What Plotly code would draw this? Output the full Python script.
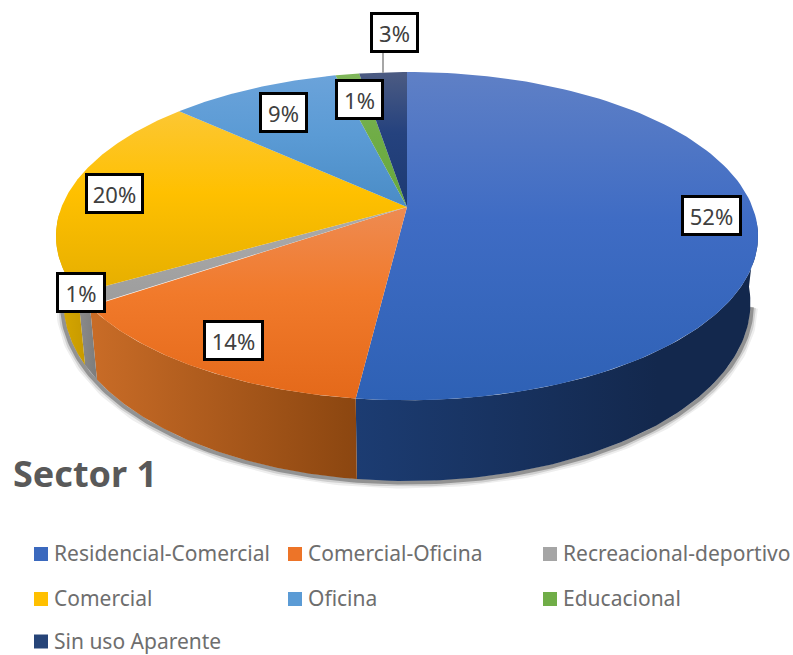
import numpy as np
import plotly.graph_objects as go

categories = ["Residencial-Comercial", "Comercial-Oficina", "Recreacional-deportivo",
              "Comercial", "Oficina", "Educacional", "Sin uso Aparente"]
values = [51.9, 13.5, 1.3, 20.0, 9.3, 1.3, 2.6]
pct_labels = ["52%", "14%", "1%", "20%", "9%", "1%", "3%"]
top_light = ["#5F80C6", "#EE8B52", "#ABABAB", "#FCC733", "#6BA3DA", "#7FB65A", "#4C5B82"]
top_mid = ["#3F6CC4", "#F17A2B", "#A5A5A5", "#FFC000", "#5B9BD5", "#70AD47", "#25427E"]
top_dark = ["#2E61B5", "#E4691A", "#9C9C9C", "#E5AE00", "#4A8CC6", "#66A83C", "#1C3A72"]
side_left = ["#1C3C72", "#C96C27", "#8C8C8C", "#D9A900", "#000000", "#000000", "#000000"]
side_right = ["#13284D", "#8B4610", "#7C7C7C", "#C79A00", "#000000", "#000000", "#000000"]
legend_colors = ["#3B69BE", "#ED7428", "#A5A5A5", "#FFC000", "#5B9BD5", "#70AD47", "#264478"]
label_centers = [(711, 215), (233, 340), (81, 292), (114, 193), (283, 112), (359, 99), (394, 32)]
label_widths = [55, 55, 44, 53, 43, 43, 43]
legend_cols = [34, 288, 543, 34, 288, 543, 34]
legend_rows = [554, 554, 554, 599, 599, 599, 641.5]

CX = 407
TOP = dict(A=345.5, B=159.0, k=0.177, y0=207.0)
BOT = dict(A=338.0, B=172.4, k=0.177, y0=271.5)
SIDE_FROM, SIDE_TO = 95.0, 268.0


def project(theta_deg, p):
    t = np.radians(theta_deg)
    w = 1 + p["k"] * np.cos(t)
    return CX + p["A"] * np.sin(t) / w, p["y0"] - p["B"] * np.cos(t) / w


edges = np.concatenate([[0], np.cumsum(values)]) / sum(values) * 360

fig = go.Figure()

# soft shadow under the lower rim
arc = np.linspace(SIDE_FROM + 6, SIDE_TO - 6, 200)
sx, sy = project(arc, BOT)
for width, off, alpha in [(10, 2.5, 0.07), (7, 2, 0.14), (4, 1.5, 0.32)]:
    fig.add_trace(go.Scatter(x=sx + np.sign(sx - CX) * off, y=sy + off, mode="lines",
                             line=dict(color=f"rgba(20,20,20,{alpha})", width=width),
                             hoverinfo="skip", showlegend=False))

# rim of the disc
for i, name in enumerate(categories):
    a0, a1 = max(edges[i], SIDE_FROM), min(edges[i + 1], SIDE_TO)
    if a1 <= a0:
        continue
    th = np.linspace(a0, a1, 80)
    x1, y1 = project(th, TOP)
    x2, y2 = project(th[::-1], BOT)
    xs, ys = np.r_[x1, x2, x1[0]], np.r_[y1, y2, y1[0]]
    fig.add_trace(go.Scatter(
        x=xs, y=ys, mode="lines", fill="toself", line=dict(width=0), name=name,
        fillgradient=dict(type="horizontal", start=float(xs.min()), stop=float(xs.max()),
                          colorscale=[[0, side_left[i]], [0.75 if i == 0 else 1, side_right[i]],
                                      [1, side_right[i]]]),
        hoverinfo="skip", showlegend=False))

# top face
for i, name in enumerate(categories):
    th = np.linspace(edges[i], edges[i + 1], 120)
    x1, y1 = project(th, TOP)
    xs = np.r_[CX, x1, CX]
    ys = np.r_[TOP["y0"], y1, TOP["y0"]]
    fig.add_trace(go.Scatter(
        x=xs, y=ys, mode="lines", fill="toself", line=dict(width=0), name=name,
        fillgradient=dict(type="vertical", start=float(ys.min()), stop=float(ys.max()),
                          colorscale=[[0, top_light[i]], [0.45, top_mid[i]], [1, top_dark[i]]]),
        hovertemplate=f"{name}: {pct_labels[i]}<extra></extra>", showlegend=False))

shapes = [dict(type="line", xref="x", yref="y", x0=383, x1=383, y0=50, y1=73,
               line=dict(color="#A6A6A6", width=2))]
annotations = []
for lab, (x, y), w in zip(pct_labels, label_centers, label_widths):
    annotations.append(dict(x=x, y=y, xref="x", yref="y", text=lab, showarrow=False,
                            width=w, height=35, align="center", valign="middle",
                            bgcolor="white", bordercolor="black", borderwidth=3, borderpad=0,
                            font=dict(family="Noto Sans", size=22, color="#404040")))
for name, col, x, y in zip(categories, legend_colors, legend_cols, legend_rows):
    shapes.append(dict(type="rect", xref="x", yref="y", x0=x, x1=x + 14, y0=y - 7, y1=y + 7,
                       fillcolor=col, line=dict(width=0)))
    annotations.append(dict(x=x + 19, y=y - 1, xref="x", yref="y", text=name, showarrow=False,
                            xanchor="left", yanchor="middle", borderpad=0,
                            font=dict(family="Noto Sans", size=21, color="#6E6E6E")))
annotations.append(dict(x=11, y=473, xref="x", yref="y", text="<b>Sector 1</b>", showarrow=False,
                        xanchor="left", yanchor="middle",
                        font=dict(family="Noto Sans", size=36, color="#595959")))

fig.update_layout(
    width=793, height=655, margin=dict(l=0, r=0, t=0, b=0),
    paper_bgcolor="white", plot_bgcolor="white", showlegend=False,
    xaxis=dict(range=[0, 793], visible=False, fixedrange=True),
    yaxis=dict(range=[655, 0], visible=False, fixedrange=True),
    shapes=shapes, annotations=annotations,
)
fig.write_html("out.html", config={"displayModeBar": False},
               post_script="document.body.style.margin='0';document.body.style.overflow='hidden';")
